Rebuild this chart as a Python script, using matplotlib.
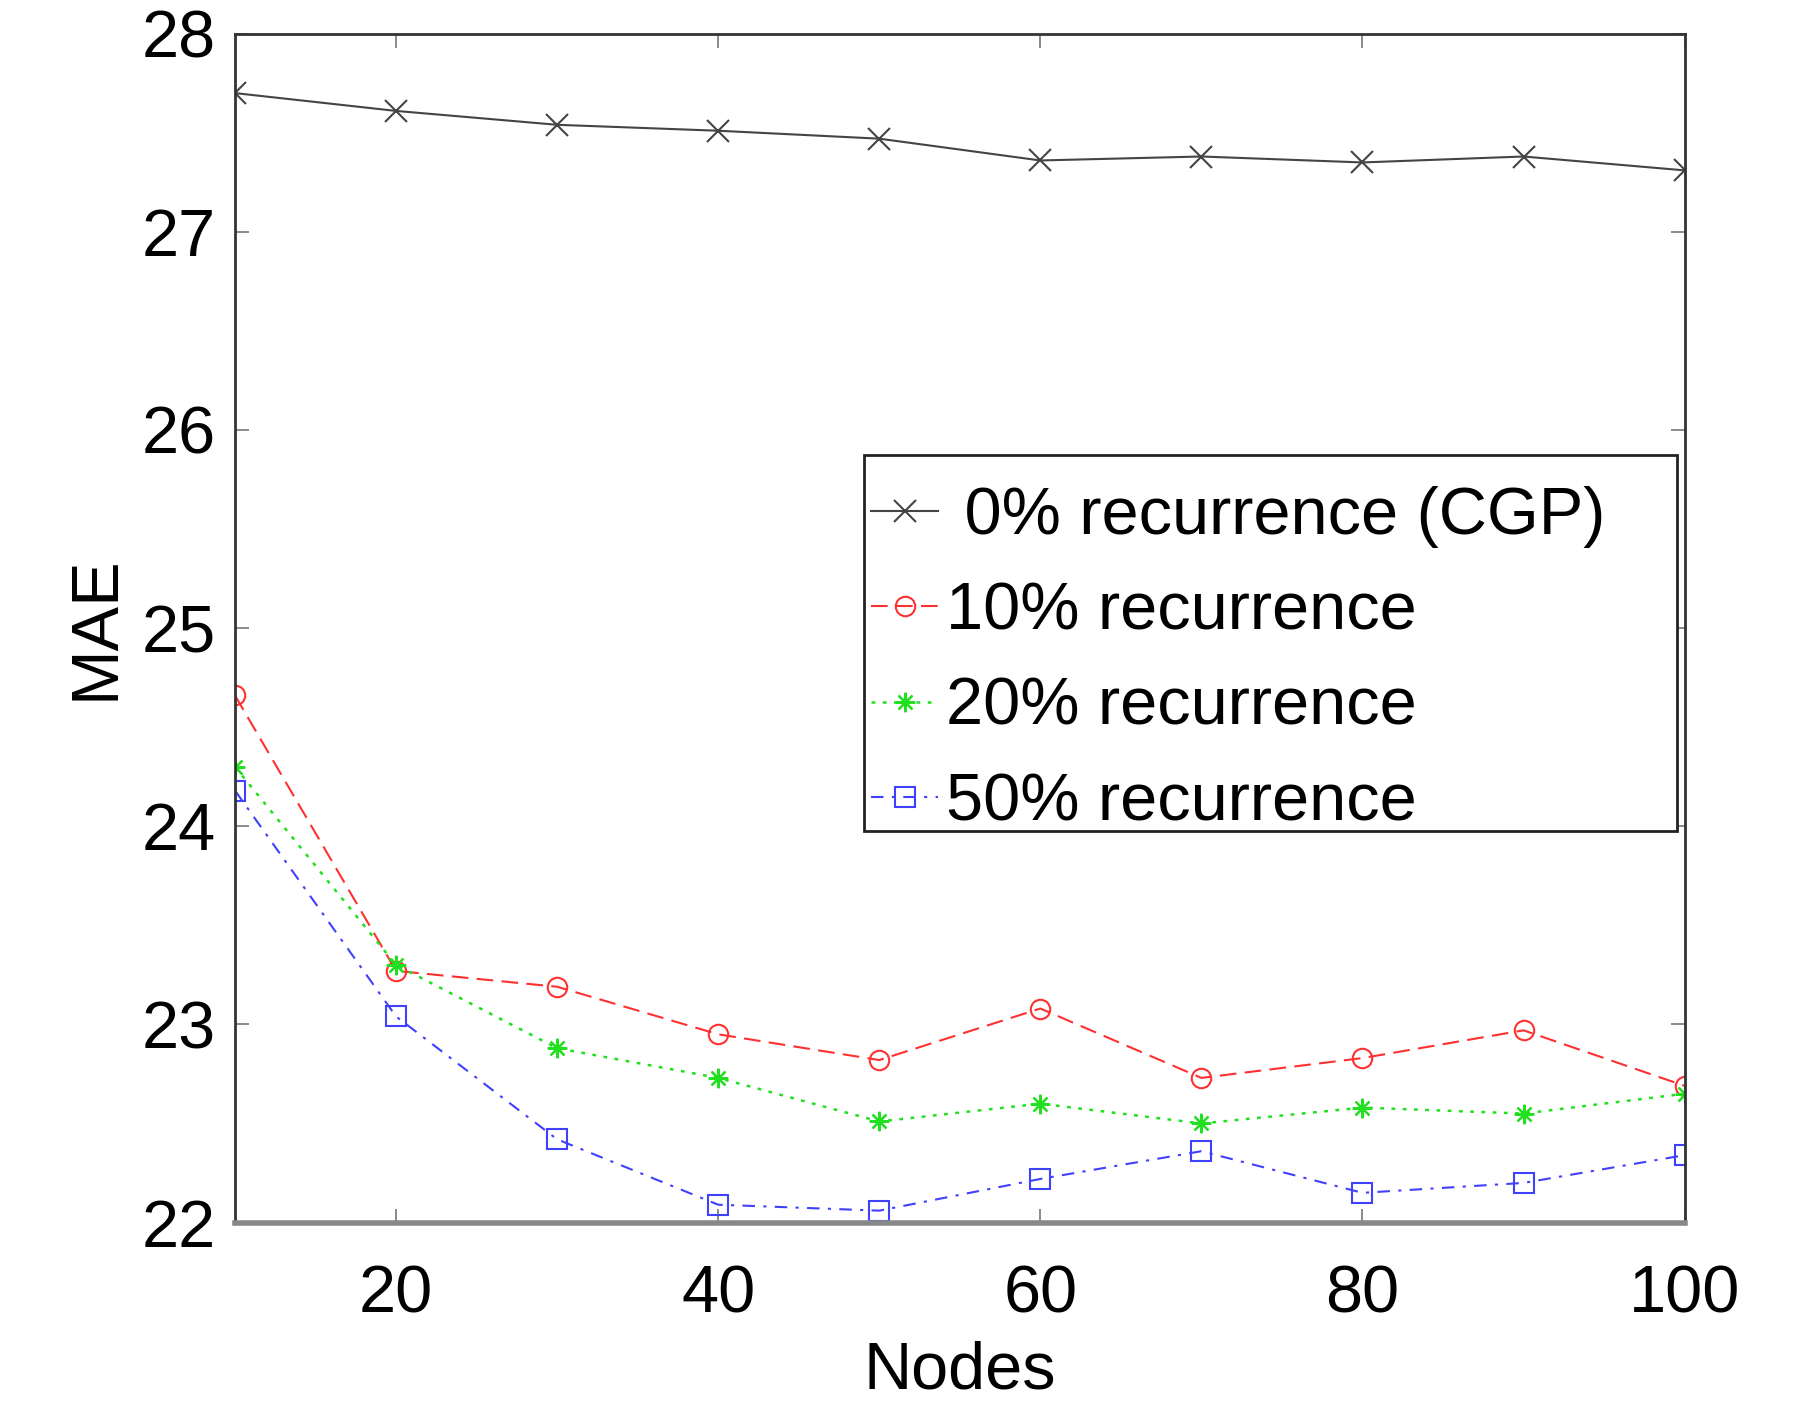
"""
MAE against number of nodes for different recurrence levels.
"""
import matplotlib

matplotlib.use("Agg")
import matplotlib.pyplot as plt
from matplotlib.patches import Rectangle

nodes = [10, 20, 30, 40, 50, 60, 70, 80, 90, 100]
mae_0 = [27.70, 27.61, 27.54, 27.51, 27.47, 27.36, 27.38, 27.35, 27.38, 27.31]
mae_10 = [24.66, 23.27, 23.19, 22.95, 22.82, 23.08, 22.73, 22.83, 22.97, 22.69]
mae_20 = [24.30, 23.30, 22.88, 22.73, 22.51, 22.60, 22.50, 22.58, 22.55, 22.65]
mae_50 = [24.18, 23.04, 22.42, 22.09, 22.06, 22.22, 22.36, 22.15, 22.20, 22.34]

labels = [
    " 0% recurrence (CGP)",
    "10% recurrence",
    "20% recurrence",
    "50% recurrence",
]
x_ticks = [20, 40, 60, 80, 100]
y_ticks = [22, 23, 24, 25, 26, 27, 28]

plt.rcParams["font.family"] = ["Liberation Sans", "DejaVu Sans"]

fig = plt.figure(figsize=(17.94, 14.02), dpi=100)
ax = fig.add_axes([0.131, 0.128, 0.808, 0.848])

ax.plot(nodes, mae_0, color="#444444", linestyle="-", marker="x",
        markersize=16, markeredgewidth=1.5, linewidth=1.5, label=labels[0])
ax.plot(nodes, mae_10, color="#ff3030", linestyle=(0, (8, 4)), marker="o",
        markersize=14, markerfacecolor="none", markeredgewidth=1.5,
        linewidth=1.5, label=labels[1])
ax.plot(nodes, mae_20, color="#20e020", linestyle=(0, (1.5, 3)), marker=(8, 2, 0),
        markersize=14, markeredgewidth=1.6, linewidth=1.8, label=labels[2])
ax.plot(nodes, mae_50, color="#4040ff", linestyle=(0, (6, 4, 1.5, 4)), marker="s",
        markersize=14, markerfacecolor="none", markeredgewidth=1.5,
        linewidth=1.5, label=labels[3])

ax.set_xlim(10, 100)
ax.set_ylim(22, 28)
ax.set_xticks(x_ticks)
ax.set_yticks(y_ticks)
ax.tick_params(axis="both", direction="in", length=10, width=1.2,
               top=True, right=True, labelsize=48, color="#777777")
ax.tick_params(axis="x", pad=30)
ax.tick_params(axis="y", pad=14)
for side in ["top", "left", "right"]:
    ax.spines[side].set_linewidth(2)
    ax.spines[side].set_color("#333333")
ax.spines["bottom"].set_linewidth(4)
ax.spines["bottom"].set_color("#888888")

ax.set_xlabel("Nodes", fontsize=48, labelpad=10)
ax.set_ylabel("MAE", fontsize=48, labelpad=10)

# legend frame drawn separately so the box can be larger than its contents
ax.add_patch(Rectangle((0.434, 0.329), 0.561, 0.317, transform=ax.transAxes,
                       facecolor="white", edgecolor="#222222", linewidth=2,
                       zorder=4))
ax.spines["bottom"].set_zorder(5)
leg = ax.legend(loc="center left", bbox_to_anchor=(0.439, 0.473), fontsize=48,
                frameon=False, handlelength=1.0, handletextpad=0.12,
                labelspacing=0.5, borderpad=0.0, borderaxespad=0.0)
leg.set_zorder(6)

fig.savefig("out.png", dpi=100)
